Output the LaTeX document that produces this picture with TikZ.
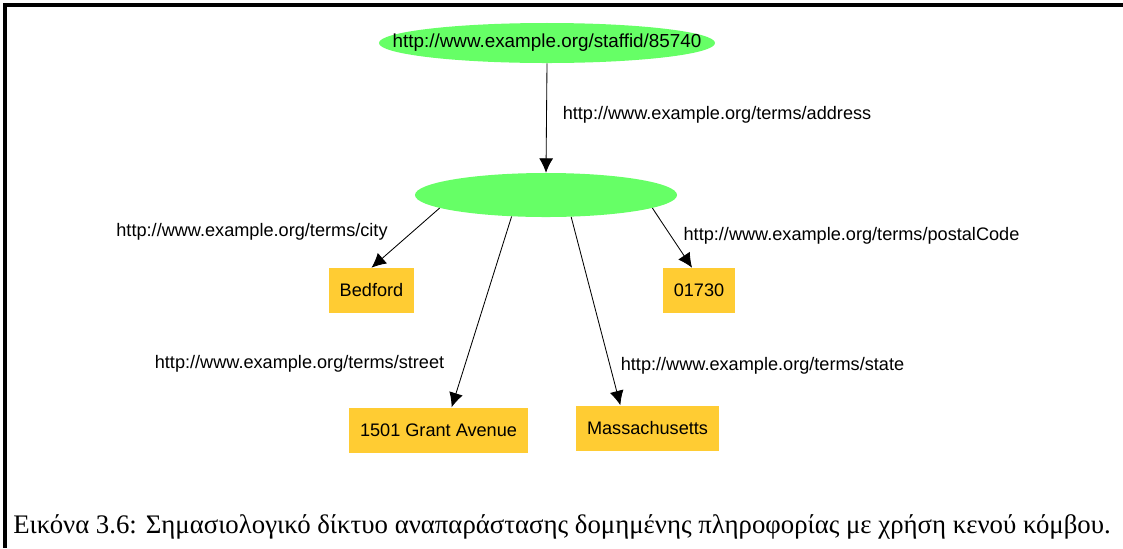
\documentclass[tikz,border=0pt]{standalone}
\usepackage{fontspec}
\setmainfont{Liberation Serif}
\newfontfamily\arialfont{Liberation Sans}
\usepackage{tikz}
\usetikzlibrary{arrows.meta,shapes.geometric}
\definecolor{resgreen}{RGB}{102,255,102}
\definecolor{litorange}{RGB}{255,204,51}

\begin{document}
\begin{tikzpicture}[x=0.025cm, y=-0.025cm,
  res/.style={ellipse, fill=resgreen, inner sep=0pt},
  prop/.style={font=\arialfont\fontsize{12.9}{15}\selectfont},
  lit/.style={rectangle, fill=litorange, inner xsep=0.275cm, minimum height=1.125cm, prop},
  arc/.style={line width=0.6pt, -{Latex[length=3.6mm, width=3.5mm]}}]

\useasboundingbox (0,0) rectangle (1123,548);
\draw[line width=2.2pt] (1123,5) -- (5,5) -- (5,548);

\node[res, minimum width=8.4cm, minimum height=1cm, label={[prop, font=\arialfont\fontsize{13.4}{15}\selectfont]center:{http://www.example.org/staffid/85740}}] at (547,43) (staff) {};
\node[res, minimum width=6.55cm, minimum height=1.1cm] at (546,195) (blank) {};

\node[lit] at (371.5,290.5) (bedford) {Bedford};
\node[lit] at (699,290.5) (code) {01730};
\node[lit] at (438.5,430) (grant) {1501 Grant Avenue};
\node[lit] at (647.5,428) (mass) {Massachusetts};

\node[prop] at (717,115) (addr) {http://www.example.org/terms/address};
\node[prop] at (252,232) (city) {http://www.example.org/terms/city};
\node[prop] at (851.5,236) (postal) {http://www.example.org/terms/postalCode};
\node[prop] at (299.5,364) (street) {http://www.example.org/terms/street};
\node[prop] at (762.5,366) (state) {http://www.example.org/terms/state};

\draw[arc] (staff.south) -- (blank.north);
\draw[arc] (blank.187) -- (bedford.north);
\draw[arc] (blank.212) -- (grant.60);
\draw[arc] (blank.319) -- (mass.140);
\draw[arc] (blank.353) -- (code.107);

\node[font=\fontsize{19.05}{22}\selectfont] at (562,527) (caption) {Εικόνα 3.6: Σημασιολογικό δίκτυο αναπαράστασης δομημένης πληροφορίας με χρήση κενού κόμβου.};

\end{tikzpicture}
\end{document}
